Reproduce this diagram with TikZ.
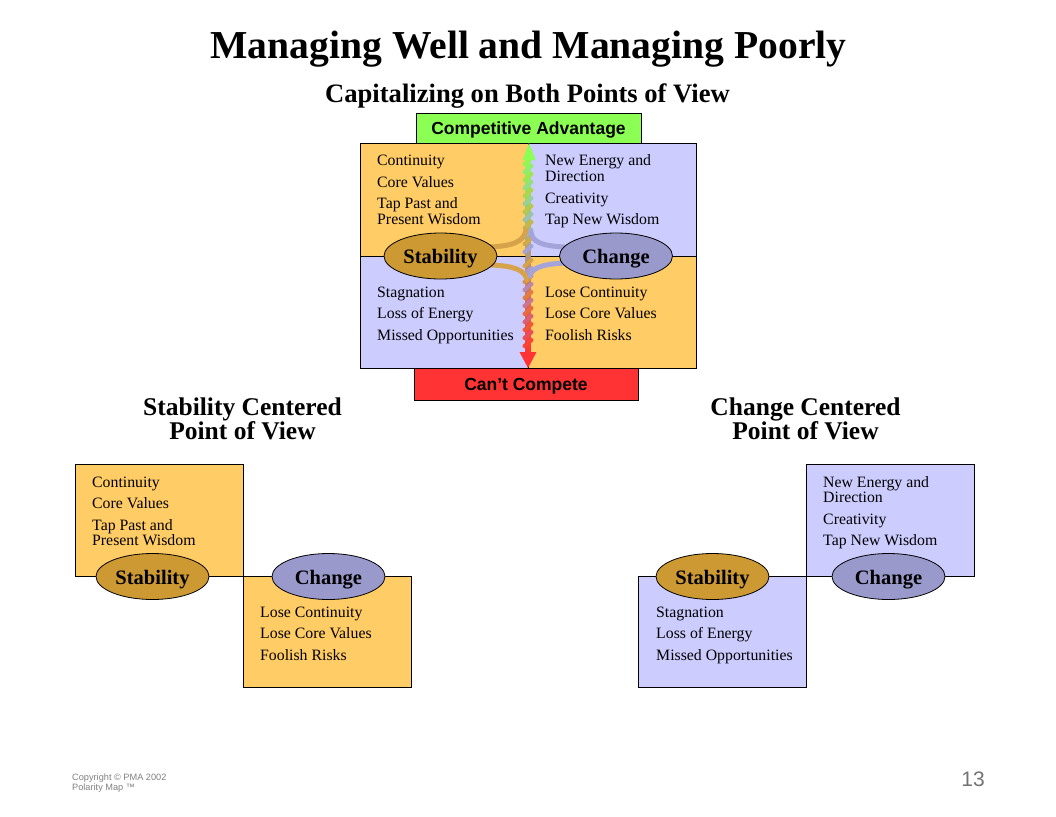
\documentclass[tikz,border=0pt]{standalone}
\usepackage{fontspec}
\setmainfont{Liberation Serif}
\newfontfamily\arialf{Liberation Sans}
\usetikzlibrary{shapes.geometric}
\definecolor{orng}{HTML}{FFCC66}
\definecolor{lav}{HTML}{CCCCFF}
\definecolor{tanb}{HTML}{CC9933}
\definecolor{lavb}{HTML}{9999CC}
\definecolor{tanL}{HTML}{D6A24A}
\definecolor{lavL}{HTML}{A4A4DA}
\definecolor{grn}{HTML}{8CFF55}
\definecolor{redb}{HTML}{FF3333}
\definecolor{gry}{HTML}{808080}
\begin{document}
\begin{tikzpicture}[x=1pt,y=-1pt,
  box/.style={draw=black,line width=0.8pt,inner sep=0pt,outer sep=0pt,anchor=north west},
  itm/.style={anchor=base west,inner sep=0pt,font=\fontsize{15.8}{16}\selectfont},
  ell/.style={ellipse,draw=black,line width=0.8pt,minimum width=113pt,minimum height=46pt,inner sep=0pt,text height=15pt,text depth=0pt,font=\fontsize{20.5}{22}\selectfont\bfseries},
  hdr/.style={anchor=base,inner sep=0pt,font=\fontsize{25.5}{26}\selectfont\bfseries},
  lbl/.style={draw=black,line width=0.8pt,inner sep=0pt,outer sep=0pt,text height=12.6pt,text depth=0pt,font=\arialf\bfseries\fontsize{17.5}{18}\selectfont},
  curve/.style={line width=5pt,line cap=round}]
\useasboundingbox (0,0) rectangle (1056,816);

% titles
\node[anchor=base,inner sep=0pt,font=\fontsize{39.6}{40}\selectfont\bfseries] (title) at (528.5,59) {Managing Well and Managing Poorly};
\node[anchor=base,inner sep=0pt,font=\fontsize{26.6}{28}\selectfont\bfseries] (sub) at (527.5,102) {Capitalizing on Both Points of View};

% top polarity map
\node[lbl,fill=grn,minimum width=225pt,minimum height=30pt] (ca) at (528.5,128) {Competitive Advantage};
\node[box,fill=orng,minimum width=168pt,minimum height=113pt] (ul) at (360,143) {};
\node[box,fill=lav,minimum width=168pt,minimum height=113pt] (ur) at (528,143) {};
\node[box,fill=lav,minimum width=168pt,minimum height=112pt] (ll) at (360,256) {};
\node[box,fill=orng,minimum width=168pt,minimum height=112pt] (lr) at (528,256) {};
\node[lbl,fill=redb,minimum width=224pt,minimum height=32pt] (cc) at (526,384) {Can’t Compete};
\coordinate (ctr) at (528,256);

\node[itm] (t1) at (377,165) {Continuity};
\node[itm] (t2) at (377,187) {Core Values};
\node[itm] (t3) at (377,208) {Tap Past and};
\node[itm] (t4) at (377,224) {Present Wisdom};
\node[itm] (t5) at (545,165) {New Energy and};
\node[itm] (t6) at (545,181) {Direction};
\node[itm] (t7) at (545,203) {Creativity};
\node[itm] (t8) at (545,224) {Tap New Wisdom};
\node[itm] (t9) at (377,297) {Stagnation};
\node[itm] (t10) at (377,318) {Loss of Energy};
\node[itm] (t11) at (377,340) {Missed Opportunities};
\node[itm] (t12) at (545,297) {Lose Continuity};
\node[itm] (t13) at (545,318) {Lose Core Values};
\node[itm] (t14) at (545,340) {Foolish Risks};

% braided arrows
\shade[top color=grn,bottom color=tanb!50!lavb] (525.5,158) rectangle (530.5,256);
\shade[top color=tanb!50!lavb,bottom color=redb] (525.5,256) rectangle (530.5,354);
\foreach \k in {0,...,11} {
  \pgfmathsetmacro\p{\k*8}
  \pgfmathtruncatemacro\od{mod(\k,2)}
  \ifnum\od=1 \def\bc{tanL}\else\def\bc{lavL}\fi
  \draw[line width=4pt,line cap=round,color=grn!\p!\bc] (524.5,252-8*\k) -- (531.5,246-8*\k);
}
\foreach \k in {0,...,10} {
  \pgfmathsetmacro\p{\k*8.5}
  \pgfmathtruncatemacro\od{mod(\k,2)}
  \ifnum\od=1 \def\bc{lavL}\else\def\bc{tanL}\fi
  \draw[line width=4pt,line cap=round,color=redb!\p!\bc] (524.5,266+8*\k) -- (531.5,260+8*\k);
}
\fill[grn] (ca.south) ++(0.5,0) -- ++(-6.5,17) -- ++(13,0) -- cycle;
\fill[redb] (cc.north) ++(2,0) -- ++(-8.5,-16) -- ++(17,0) -- cycle;

\draw[curve,tanL] (490,247) .. controls (512,246) and (524,242) .. (526,230);
\draw[curve,lavL] (565,247) .. controls (542,246) and (532,242) .. (531,232);
\draw[curve,tanL] (492,265) .. controls (514,266) and (525,270) .. (527,280);
\draw[curve,lavL] (565,263) .. controls (542,264) and (532,268) .. (530,276);

\node[ell,fill=tanb] (st) at (440.5,256) {Stability};
\node[ell,fill=lavb] (ch) at (616,256) {Change};

% Stability centered
\node[hdr] (sh1) at (242.5,415) {Stability Centered};
\node[hdr] (sh2) at (242.5,439) {Point of View};
\node[box,fill=orng,minimum width=168pt,minimum height=112pt] (b1) at (75,464) {};
\node[box,fill=orng,minimum width=168pt,minimum height=111pt] (b2) at (243,576) {};
\node[itm] (s1) at (92,487) {Continuity};
\node[itm] (s2) at (92,508) {Core Values};
\node[itm] (s3) at (92,530) {Tap Past and};
\node[itm] (s4) at (92,545) {Present Wisdom};
\node[itm] (s5) at (260,617) {Lose Continuity};
\node[itm] (s6) at (260,638) {Lose Core Values};
\node[itm] (s7) at (260,660) {Foolish Risks};
\node[ell,fill=tanb] (bst) at (152.5,576.5) {Stability};
\node[ell,fill=lavb] (bch) at (328.5,576.5) {Change};

% Change centered
\node[hdr] (ch1) at (805.5,415) {Change Centered};
\node[hdr] (ch2) at (805.5,439) {Point of View};
\node[box,fill=lav,minimum width=168pt,minimum height=112pt] (c1) at (806,464) {};
\node[box,fill=lav,minimum width=168pt,minimum height=111pt] (c2) at (638,576) {};
\node[itm] (r1) at (823,487) {New Energy and};
\node[itm] (r2) at (823,502) {Direction};
\node[itm] (r3) at (823,524) {Creativity};
\node[itm] (r4) at (823,545) {Tap New Wisdom};
\node[itm] (r5) at (656,617) {Stagnation};
\node[itm] (r6) at (656,638) {Loss of Energy};
\node[itm] (r7) at (656,660) {Missed Opportunities};
\node[ell,fill=tanb] (cst) at (712.5,576.5) {Stability};
\node[ell,fill=lavb] (cch) at (888.5,576.5) {Change};

% footer
\node[anchor=base west,inner sep=0pt,text=gry,font=\arialf\fontsize{9.2}{10}\selectfont] (cp1) at (72,780) {Copyright © PMA 2002};
\node[anchor=base west,inner sep=0pt,text=gry,font=\arialf\fontsize{9.2}{10}\selectfont] (cp2) at (72,790) {Polarity Map ™};
\node[anchor=base,inner sep=0pt,text=gry!90!black,font=\arialf\fontsize{21}{22}\selectfont] (pg) at (973,786) {13};
\end{tikzpicture}
\end{document}
